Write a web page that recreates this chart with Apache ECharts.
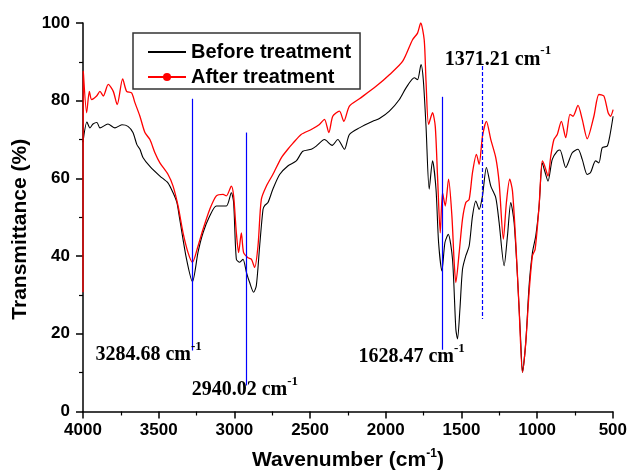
<!DOCTYPE html>
<html>
<head>
<meta charset="utf-8">
<script src="https://cdn.jsdelivr.net/npm/echarts@6/dist/echarts.min.js"></script>
<style>html,body{margin:0;padding:0;background:#fff;}#c{width:630px;height:476px;}</style>
</head>
<body>
<div id="c"></div>
<script>
// ---- data (wavenumber cm^-1, transmittance %) ----
const wnBefore = [4000,3974,3954,3934,3908,3888,3835,3789,3743,3703,3670,3644,3624,3604,3558,3492,3440,3405,3380,3361,3316,3277,3240,3207,3163,3119,3053,3020,3005,2987,2965,2943,2921,2899,2873,2855,2833,2811,2800,2778,2746,2701,2647,2591,2548,2492,2459,2405,2354,2317,2273,2240,2174,2086,2042,1976,1910,1866,1811,1790,1767,1752,1734,1713,1691,1668,1651,1629,1609,1587,1559,1537,1526,1510,1493,1471,1449,1427,1405,1383,1361,1335,1306,1273,1251,1218,1196,1174,1152,1130,1108,1097,1075,1053,1031,1009,987,966,950,928,900,867,849,811,768,730,702,669,647,614,592,570,537,520,498];
const tBefore  = [69.3,74.5,73.0,74.0,74.4,73.0,74.0,73.0,73.8,73.4,71.8,68.7,67.5,65.4,63.1,60.6,58.9,56.3,53.8,49.5,39.2,33.4,41.0,46.0,50.3,52.9,52.9,56.3,53.8,39.2,38.4,39.2,35.9,33.2,30.7,32.4,42.6,52.0,53.0,53.8,57.2,61.0,63.2,64.5,67.0,67.5,68.3,70.0,68.5,70.0,67.5,71.3,73.0,74.7,75.4,77.3,80.3,83.3,85.9,85.4,89.3,85.4,73.4,57.2,64.5,57.2,43.5,36.2,43.5,45.6,39.2,21.2,18.7,26.4,36.6,40.1,42.6,50.3,54.2,52.0,55.5,62.8,58.0,55.0,48.6,37.5,45.2,53.8,48.6,34.9,17.8,10.1,17.8,32.4,40.9,45.2,52.9,64.0,61.9,59.3,64.9,67.0,67.3,62.8,66.6,67.5,64.9,61.0,61.5,64.5,64.0,67.9,68.3,70.9,76.0];
const wnAfter = [4000,3998,3976,3958,3943,3910,3888,3866,3833,3800,3774,3738,3712,3679,3657,3624,3591,3558,3525,3492,3438,3405,3372,3339,3306,3277,3240,3207,3163,3119,3075,3053,3020,3005,2987,2972,2954,2939,2910,2888,2866,2844,2822,2789,2746,2690,2647,2614,2559,2492,2438,2405,2376,2350,2306,2277,2240,2174,2064,1976,1889,1823,1790,1769,1746,1734,1717,1691,1673,1658,1640,1625,1607,1585,1563,1548,1537,1515,1493,1471,1449,1427,1401,1383,1361,1335,1306,1273,1251,1223,1203,1181,1163,1141,1119,1097,1075,1053,1031,1013,987,966,950,928,910,889,867,840,811,783,763,730,702,669,625,592,559,531,515,498];
const tAfter  = [30.7,87.6,76.9,82.4,80.3,81.2,82.4,81.2,84.2,82.4,79.0,85.6,82.4,82.0,79.5,76.0,71.8,70.0,66.6,64.0,61.0,58.0,52.9,46.0,40.9,38.4,42.6,46.9,52.0,55.5,55.9,55.5,58.0,55.5,46.0,40.9,46.0,40.9,39.6,39.2,37.1,42.6,54.6,58.0,61.0,65.3,67.5,69.0,71.3,72.6,73.9,75.2,71.8,76.0,77.3,74.7,78.6,80.5,83.7,86.7,90.1,95.7,97.4,100.0,95.7,85.0,73.9,76.9,73.4,60.6,46.0,56.3,52.9,59.8,50.3,38.4,33.2,40.9,49.5,53.8,54.6,61.5,66.2,63.6,70.9,74.7,70.0,65.3,58.9,44.4,53.8,59.8,56.8,43.5,26.4,10.1,17.8,30.7,40.1,41.8,52.9,64.5,63.2,60.6,65.7,70.0,71.3,74.7,70.5,76.5,76.0,78.8,75.2,70.2,76.0,81.6,81.2,76.9,76.0,77.7];
// peak marker lines
const markerWn     = [3280, 2922, 1629, 1362];
const markerTop    = [80.5, 71.8, 81.0, 88.9];
const markerBottom = [15.7, 6.7, 15.9, 23.8];
const markerText   = ['3284.68', '2940.02', '1628.47', '1371.21'];
const seriesNames  = ['Before treatment', 'After treatment'];
// axis ranges / ticks
const xMin = 500, xMax = 4000, xStep = 500;
const yMin = 0, yMax = 100, yStep = 20;

// ---- layout (not data) ----
const labelAnchorAtTop = [false, false, false, true];
const labelOffset = [[-96, 20], [-54, 20], [-83, 23], [-37, 9]];

const zip = (a, b) => a.map((v, i) => [v, b[i]]);
const SANS = '"Liberation Sans", Arial, sans-serif';
const SERIF = '"Liberation Serif", "Times New Roman", serif';

const markLineData = markerWn.map((w, i) => [
  { coord: [w, markerTop[i]], lineStyle: { color: '#0000ff', width: 1.2, type: i === 3 ? [4, 2] : 'solid' } },
  { coord: [w, markerBottom[i]] }
]);

const labelData = markerWn.map((w, i) => ({
  value: [w, labelAnchorAtTop[i] ? markerTop[i] : markerBottom[i]],
  label: {
    show: true,
    position: labelOffset[i],
    align: 'left',
    verticalAlign: 'bottom',
    color: '#000',
    opacity: 1,
    fontFamily: SERIF, fontWeight: 'bold', fontSize: 20,
    formatter: '{a|' + markerText[i] + ' cm}{s|-1}',
    rich: {
      a: { fontFamily: SERIF, fontWeight: 'bold', fontSize: 20, lineHeight: 30, color: '#000' },
      s: { fontFamily: SERIF, fontWeight: 'bold', fontSize: 13, lineHeight: 13, verticalAlign: 'top', color: '#000' }
    }
  }
}));

const chart = echarts.init(document.getElementById('c'), null, { renderer: 'canvas' });
chart.setOption({
  animation: false,
  backgroundColor: '#fff',
  grid: { left: 83, right: 16, top: 23, bottom: 63, containLabel: false },
  legend: {
    orient: 'vertical',
    left: 133, top: 33,
    padding: [9, 9, 2, 14],
    itemGap: 5,
    itemWidth: 38, itemHeight: 10,
    borderColor: '#333', borderWidth: 1.5,
    data: [
      { name: seriesNames[0], itemStyle: { opacity: 0 } },
      { name: seriesNames[1] }
    ],
    textStyle: { fontFamily: SANS, fontWeight: 'bold', fontSize: 20, color: '#000' }
  },
  xAxis: {
    type: 'value', inverse: true, min: xMin, max: xMax, interval: xStep,
    name: '{b|Wavenumber (cm}{s|-1}{b|)}',
    nameLocation: 'middle', nameGap: 36,
    nameTextStyle: {
      rich: {
        b: { fontFamily: SANS, fontWeight: 'bold', fontSize: 21, lineHeight: 26, color: '#000' },
        s: { fontFamily: SANS, fontWeight: 'bold', fontSize: 12, lineHeight: 12, verticalAlign: 'top', color: '#000' }
      }
    },
    axisLine: { onZero: false, lineStyle: { color: '#000', width: 1.5 } },
    axisTick: { show: true, inside: false, length: 7, lineStyle: { color: '#000', width: 1.5 } },
    minorTick: { show: true, splitNumber: 2, length: 4, lineStyle: { color: '#000', width: 1.2 } },
    axisLabel: { margin: 10, fontFamily: SANS, fontWeight: 'bold', fontSize: 17, color: '#000', formatter: v => String(v) },
    splitLine: { show: false }
  },
  yAxis: {
    type: 'value', min: yMin, max: yMax, interval: yStep,
    name: 'Transmittance (%)', nameLocation: 'middle', nameGap: 49,
    nameTextStyle: { fontFamily: SANS, fontWeight: 'bold', fontSize: 21, color: '#000', padding: [0, 24, 0, 0] },
    axisLine: { show: true, onZero: false, lineStyle: { color: '#000', width: 1.5 } },
    axisTick: { show: true, inside: false, length: 7, lineStyle: { color: '#000', width: 1.5 } },
    minorTick: { show: true, splitNumber: 2, length: 4, lineStyle: { color: '#000', width: 1.2 } },
    axisLabel: { margin: 13, fontFamily: SANS, fontWeight: 'bold', fontSize: 17, color: '#000', formatter: v => String(v) },
    splitLine: { show: false }
  },
  series: [
    {
      name: seriesNames[0], type: 'line', data: zip(wnBefore, tBefore),
      symbol: 'none', smooth: 0.25, color: '#000',
      lineStyle: { color: '#000', width: 1.1 },
      markLine: { silent: true, symbol: ['none', 'none'], label: { show: false }, data: markLineData },
      z: 2
    },
    {
      name: seriesNames[1], type: 'line', data: zip(wnAfter, tAfter),
      symbol: 'circle', symbolSize: 8, showSymbol: false, smooth: 0.25, color: '#ff0000',
      lineStyle: { color: '#ff0000', width: 1.3 },
      z: 3
    },
    {
      name: 'labels', type: 'scatter', data: labelData,
      symbolSize: 1, itemStyle: { color: '#fff', opacity: 0 }, silent: true, z: 5
    }
  ]
});
</script>
</body>
</html>
